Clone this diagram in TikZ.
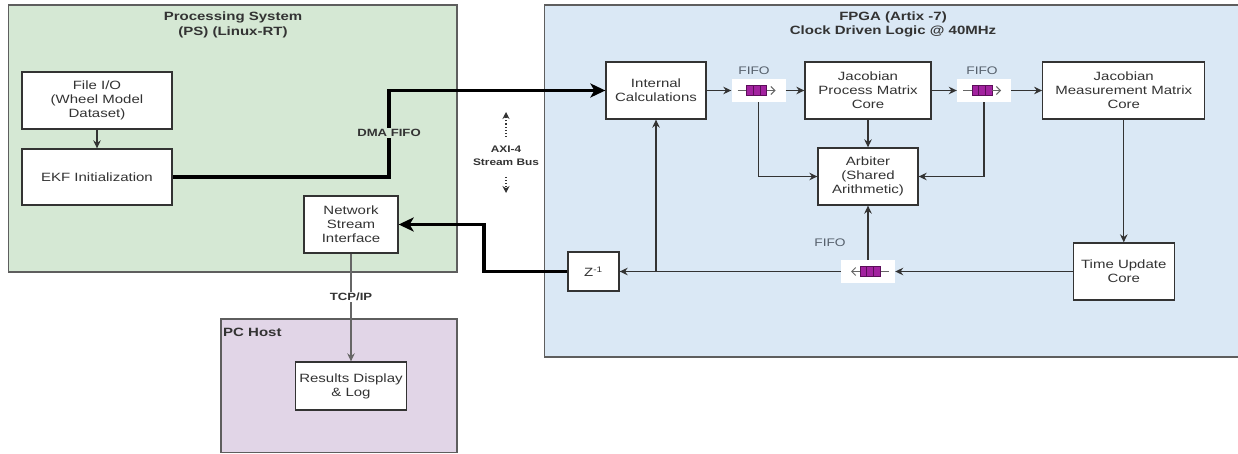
\documentclass[tikz,border=0pt]{standalone}
\usepackage{fontspec}
\setmainfont{Liberation Sans}[FakeStretch=1.25]
\usetikzlibrary{arrows.meta}
\definecolor{psgreen}{HTML}{D5E8D4}
\definecolor{fpgablue}{HTML}{DAE8F5}
\definecolor{pcpurple}{HTML}{E1D5E7}
\definecolor{grpline}{HTML}{5E5E5E}
\definecolor{boxline}{HTML}{333333}
\definecolor{txt}{HTML}{333333}
\definecolor{fifofill}{HTML}{A2229F}
\definecolor{fifoline}{HTML}{5C0E5A}
\definecolor{fifolbl}{HTML}{56606C}
\definecolor{iconline}{HTML}{666666}
\begin{document}
\begin{tikzpicture}[x=1pt,y=-1pt,
  grp/.style={draw=grpline, line width=1.4pt, inner sep=0pt},
  grptitle/.style={align=center, text=txt, font=\bfseries\fontsize{12}{14.5}\selectfont},
  blk/.style={draw=boxline, fill=white, line width=1.3pt, align=center, inner sep=0pt, text=txt, font=\fontsize{12}{13.8}\selectfont},
  fifobg/.style={fill=white, inner sep=0pt, minimum width=54pt, minimum height=23pt},
  fifotxt/.style={text=fifolbl, font=\fontsize{11}{13}\selectfont},
  arr/.style={draw=boxline, line width=1.4pt, -{Stealth[length=8pt,width=7.5pt]}},
  bus/.style={draw=black, line width=3.2pt, -{Stealth[length=15pt,width=14pt,inset=4pt]}},
  fifoicon/.pic={
    \draw[iconline, line width=1pt] (-21,0) -- (-12,0);
    \draw[fifoline, fill=fifofill, line width=0.6pt] (-12,-5) rectangle (8,5);
    \draw[fifoline, line width=0.6pt] (-5.3,-5) -- (-5.3,5) (1.3,-5) -- (1.3,5);
    \draw[iconline, line width=1pt, -{Straight Barb[length=4pt,width=8pt]}] (8,0) -- (17,0);
  }
]
\useasboundingbox (0,0) rectangle (1238,454);

% group boxes
\node[grp, fill=psgreen, minimum width=448.4pt, minimum height=267pt] (ps) at (232.8,138.5) {};
\node[grp, fill=fpgablue, minimum width=700pt, minimum height=352pt] (fpga) at (894.5,181) {};
\node[grp, fill=pcpurple, minimum width=236pt, minimum height=133.5pt] (pc) at (339,385.75) {};

\node[grptitle] (pstitle) at (233,25) {Processing System\\(PS) (Linux-RT)};
\node[grptitle] (fpgatitle) at (893,24.5) {FPGA (Artix -7)\\Clock Driven Logic @ 40MHz};
\node[anchor=west, inner sep=0pt, text=txt, font=\bfseries\fontsize{12}{14}\selectfont] (pctitle) at (223,332) {PC Host};

% PS blocks
\node[blk, minimum width=150pt, minimum height=57pt] (fileio) at (97,100.5) {File I/O\\(Wheel Model\\Dataset)};
\node[blk, minimum width=150pt, minimum height=56pt] (ekf) at (97,177) {EKF Initialization};
\node[blk, minimum width=94pt, minimum height=57pt] (nsi) at (351,224.5) {Network\\Stream\\Interface};

% PC host block
\node[blk, minimum width=111pt, minimum height=48pt] (res) at (351,386) {Results Display\\\& Log};

% FPGA blocks
\node[blk, minimum width=100pt, minimum height=57pt] (intc) at (656,90.5) {Internal\\Calculations};
\node[blk, minimum width=126pt, minimum height=57pt] (jpmc) at (868,90.5) {Jacobian\\Process Matrix\\Core};
\node[blk, minimum width=162pt, minimum height=57pt] (jmmc) at (1123.75,90.5) {Jacobian\\Measurement Matrix\\Core};
\node[blk, minimum width=100pt, minimum height=57pt] (arb) at (868,176.5) {Arbiter\\(Shared\\Arithmetic)};
\node[blk, minimum width=101pt, minimum height=57pt] (tuc) at (1123.75,271.5) {Time Update\\Core};
\node[blk, minimum width=51pt, minimum height=39pt] (z) at (593.5,271.5) {Z\textsuperscript{-1}};

% FIFOs
\node[fifobg] (fifoA) at (758.5,90.5) {};
\node[fifobg] (fifoB) at (984,90.5) {};
\node[fifobg] (fifoC) at (868,271.5) {};
\pic at (fifoA) {fifoicon};
\pic at (fifoB) {fifoicon};
\pic[xscale=-1] at (fifoC) {fifoicon};
\node[fifotxt] (fifoAl) at (754,71) {FIFO};
\node[fifotxt] (fifoBl) at (982,71) {FIFO};
\node[fifotxt] (fifoCl) at (830,243) {FIFO};

% PS connectors
\draw[arr] (fileio) -- (ekf);
\coordinate (dmaX) at (389,133);
\draw[bus] (ekf.east) -| (dmaX) |- (intc.west);
\node[fill=psgreen, inner sep=1.5pt, text=txt, font=\bfseries\fontsize{10.5}{12}\selectfont] (dmalbl) at (dmaX) {DMA FIFO};

\coordinate (retX) at (484,248);
\draw[bus] (z.west) -| (retX) |- (nsi.east);

% AXI label
\node[align=center, text=txt, font=\bfseries\fontsize{9.5}{13}\selectfont] (axi) at (506,155.5) {AXI-4\\Stream Bus};
\coordinate (axiA) at (506,137);
\coordinate (axiAt) at (506,112);
\coordinate (axiB) at (506,177);
\coordinate (axiBt) at (506,193);
\draw[boxline, line width=1.1pt, dotted, -{Stealth[length=7pt,width=7pt]}] (axiA) -- (axiAt);
\draw[boxline, line width=1.1pt, dotted, -{Stealth[length=7pt,width=7pt]}] (axiB) -- (axiBt);

% TCP/IP
\draw[draw=iconline, line width=1.3pt, -{Stealth[length=8pt,width=7.5pt]}] (nsi.south) -- (res.north);
\node[fill=white, inner sep=1.5pt, text=txt, font=\bfseries\fontsize{10.5}{12}\selectfont] (tcp) at (351,297) {TCP/IP};

% FPGA connectors
\draw[arr] (intc.east) -- (fifoA.west);
\draw[arr] (fifoA.east) -- (jpmc.west);
\draw[arr] (jpmc.east) -- (fifoB.west);
\draw[arr] (fifoB.east) -- (jmmc.west);
\draw[arr] (jpmc.south) -- (arb.north);
\draw[arr] (fifoA.south) |- (arb.west);
\draw[arr] (fifoB.south) |- (arb.east);
\draw[arr] (jmmc.south) -- (tuc.north);
\draw[arr] (tuc.west) -- (fifoC.east);
\draw[arr] (fifoC.north) -- (arb.south);
\draw[arr] (fifoC.west) -- (z.east);
\coordinate (jn) at (intc.south |- z.east);
\draw[arr] (jn) -- (intc.south);
\end{tikzpicture}
\end{document}
